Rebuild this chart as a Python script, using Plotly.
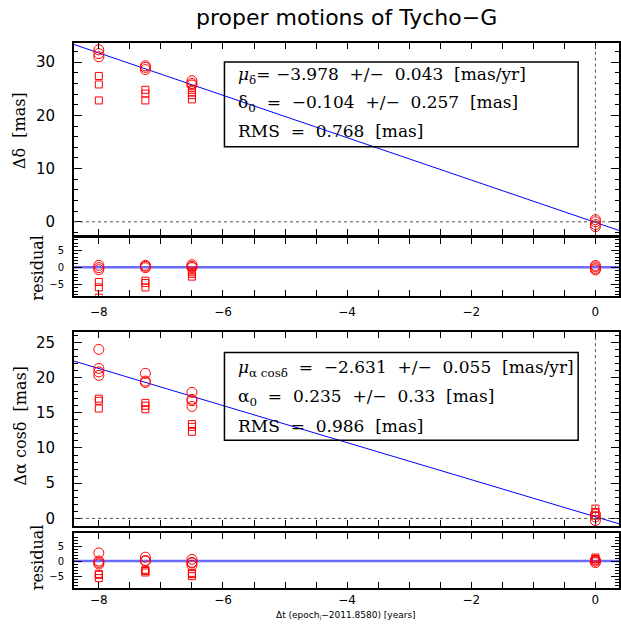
import plotly.graph_objects as go

# ---------------- data ----------------
# Declination panel
dec_circ_t = [-8.0, -8.0, -8.0, -7.25, -7.25, -7.25, -6.5, -6.5, -6.5, 0.0, 0.0, 0.0, 0.0]
dec_circ = [32.3, 31.6, 31.0, 29.3, 29.0, 28.6, 26.5, 26.0, 25.7, 0.4, 0.0, -0.5, -0.9]
dec_sq_t = [-8.0, -8.0, -8.0, -7.25, -7.25, -7.25, -6.5, -6.5, -6.5, -6.5]
dec_sq = [27.4, 25.8, 22.8, 24.8, 24.1, 22.8, 24.8, 24.3, 23.8, 23.0]
mu_dec, dec0 = -3.978, -0.104

# RA panel
ra_circ_t = [-8.0, -8.0, -8.0, -8.0, -7.25, -7.25, -7.25, -6.5, -6.5, -6.5, -6.5, 0.0, 0.0, 0.0]
ra_circ = [24.0, 21.3, 20.8, 20.3, 20.6, 19.5, 19.3, 17.9, 16.9, 16.7, 15.9, 0.6, 0.2, -0.3]
ra_sq_t = [-8.0, -8.0, -8.0, -7.25, -7.25, -7.25, -6.5, -6.5, -6.5, 0.0, 0.0, 0.0]
ra_sq = [17.0, 16.7, 15.6, 16.4, 16.0, 15.5, 13.4, 13.0, 12.3, 1.4, 0.9, 0.4]
mu_ra, ra0 = -2.631, 0.235

XR = [-8.4, 0.38]

# ---------------- helpers ----------------
W, H, L = 621, 625, 74
PW = W - L


def px2x(px):
    return (px - L) / PW


def px2y(py):
    return 1 - py / H


def dom(top, bot):
    return [px2y(bot), px2y(top)]


RED = "#ff0000"
fig = go.Figure()


def fitline(mu, c0):
    return [mu * x + c0 for x in XR]


def resid(t, y, mu, c0):
    return [yy - (mu * tt + c0) for tt, yy in zip(t, y)]


circ = dict(symbol="circle-open", size=10, color=RED, line=dict(width=1, color=RED))
sq = dict(symbol="square-open", size=7, color=RED, line=dict(width=1, color=RED))

panels = [
    (1, 2, dec_circ_t, dec_circ, dec_sq_t, dec_sq, mu_dec, dec0),
    (3, 4, ra_circ_t, ra_circ, ra_sq_t, ra_sq, mu_ra, ra0),
]
for m, r, ct, cy, st, sy, mu, c0 in panels:
    xm, ym = ("x" if m == 1 else f"x{m}"), ("y" if m == 1 else f"y{m}")
    xr, yr = f"x{r}", f"y{r}"
    fig.add_trace(go.Scatter(x=XR, y=fitline(mu, c0), mode="lines",
                             line=dict(color="#0000ff", width=1), xaxis=xm, yaxis=ym))
    fig.add_trace(go.Scatter(x=st, y=sy, mode="markers", marker=sq, xaxis=xm, yaxis=ym))
    fig.add_trace(go.Scatter(x=ct, y=cy, mode="markers", marker=circ, xaxis=xm, yaxis=ym))
    fig.add_trace(go.Scatter(x=XR, y=[0, 0], mode="lines",
                             line=dict(color="rgba(70,70,255,0.8)", width=2.5), xaxis=xr, yaxis=yr))
    fig.add_trace(go.Scatter(x=st, y=resid(st, sy, mu, c0), mode="markers", marker=sq,
                             xaxis=xr, yaxis=yr, cliponaxis=True))
    fig.add_trace(go.Scatter(x=ct, y=resid(ct, cy, mu, c0), mode="markers", marker=circ,
                             xaxis=xr, yaxis=yr, cliponaxis=True))

common = dict(ticks="inside", mirror="allticks", showline=True, linecolor="black",
              linewidth=2, showgrid=False, zeroline=False, tickcolor="black")


def xaxis(anchor, labels, standoff=4):
    return dict(common, range=XR, anchor=anchor, domain=[0, 1], dtick=2, tick0=0,
                ticklen=6, tickwidth=1, showticklabels=labels,
                minor=dict(dtick=0.5, ticklen=6, ticks="inside", tickcolor="black"),
                tickfont=dict(family="DejaVu Sans", size=12, color="black"),
                ticklabelstandoff=standoff)


def yaxis(anchor, domain, rng, dtick, mdtick, fsize, standoff):
    return dict(common, range=rng, anchor=anchor, domain=domain, dtick=dtick, tick0=0,
                ticklen=8, tickwidth=1,
                minor=dict(dtick=mdtick, ticklen=4, ticks="inside", tickcolor="black"),
                tickfont=dict(family="DejaVu Sans", size=fsize, color="black"),
                ticklabelstandoff=standoff)


fig.update_layout(
    width=W, height=H, margin=dict(l=L, r=0, t=0, b=0),
    plot_bgcolor="white", paper_bgcolor="white", showlegend=False,
    xaxis=xaxis("y", False),
    yaxis=yaxis("x", dom(43, 235), [-2.4, 33.6], 10, 2, 15, 14),
    xaxis2=xaxis("y2", True, 4),
    yaxis2=yaxis("x2", dom(238, 296), [-8.3, 8.7], 5, 1, 10, 6),
    xaxis3=xaxis("y3", False),
    yaxis3=yaxis("x3", dom(333, 527), [-1.1, 26.4], 5, 1, 15, 14),
    xaxis4=xaxis("y4", True, 0),
    yaxis4=yaxis("x4", dom(534, 589), [-9.0, 9.3], 5, 1, 10, 6),
)

# dotted zero lines in main panels
for xa, ya in [("x", "y"), ("x3", "y3")]:
    fig.add_shape(type="line", xref=f"{xa} domain", yref=ya, x0=0, x1=1, y0=0, y1=0,
                  line=dict(color="#555", width=1, dash="dot"))
    fig.add_shape(type="line", xref=xa, yref=f"{ya} domain", x0=0, x1=0, y0=0, y1=1,
                  line=dict(color="#555", width=1, dash="dot"))

# text boxes
for top, bot in [(62, 147), (353, 441)]:
    fig.add_shape(type="rect", xref="paper", yref="paper", x0=px2x(225), x1=px2x(580),
                  y0=px2y(bot), y1=px2y(top), line=dict(color="black", width=1.5),
                  fillcolor="rgba(0,0,0,0)")

boxfont = dict(family="DejaVu Serif", size=17, color="black")
box_lines = [
    ("<i>μ</i><sub>δ</sub>= −3.978  +/−  0.043  [mas/yr]", 76),
    ("δ<sub>0</sub>  =  −0.104  +/−  0.257  [mas]", 104),
    ("RMS  =  0.768  [mas]", 131),
    ("<i>μ</i><sub>α cosδ</sub>  =  −2.631  +/−  0.055  [mas/yr]", 369),
    ("α<sub>0</sub>  =  0.235  +/−  0.33  [mas]", 398),
    ("RMS  =  0.986  [mas]", 427),
]
for txt, py in box_lines:
    fig.add_annotation(x=px2x(237), y=px2y(py), xref="paper", yref="paper", text=txt,
                       showarrow=False, xanchor="left", yanchor="middle", font=boxfont)

# title and axis labels
fig.add_annotation(x=px2x(348), y=px2y(18), xref="paper", yref="paper",
                   text="proper motions of Tycho−G", showarrow=False,
                   font=dict(family="DejaVu Sans", size=22, color="black"), yanchor="middle")
labfont = dict(family="DejaVu Serif", size=16, color="black")
for txt, px, py in [("Δδ  [mas]", 20, 131), ("residual", 37, 268),
                    ("Δα cosδ  [mas]", 20, 427), ("residual", 37, 558)]:
    fig.add_annotation(x=px2x(px), y=px2y(py), xref="paper", yref="paper", text=txt,
                       textangle=-90, showarrow=False, font=labfont,
                       xanchor="center", yanchor="middle")
fig.add_annotation(x=px2x(347), y=px2y(616), xref="paper", yref="paper",
                   text="Δt (epoch<sub>i</sub>−2011.8580) [years]", showarrow=False,
                   font=dict(family="DejaVu Sans", size=9, color="black"), yanchor="middle")

fig.write_html("out.html")
